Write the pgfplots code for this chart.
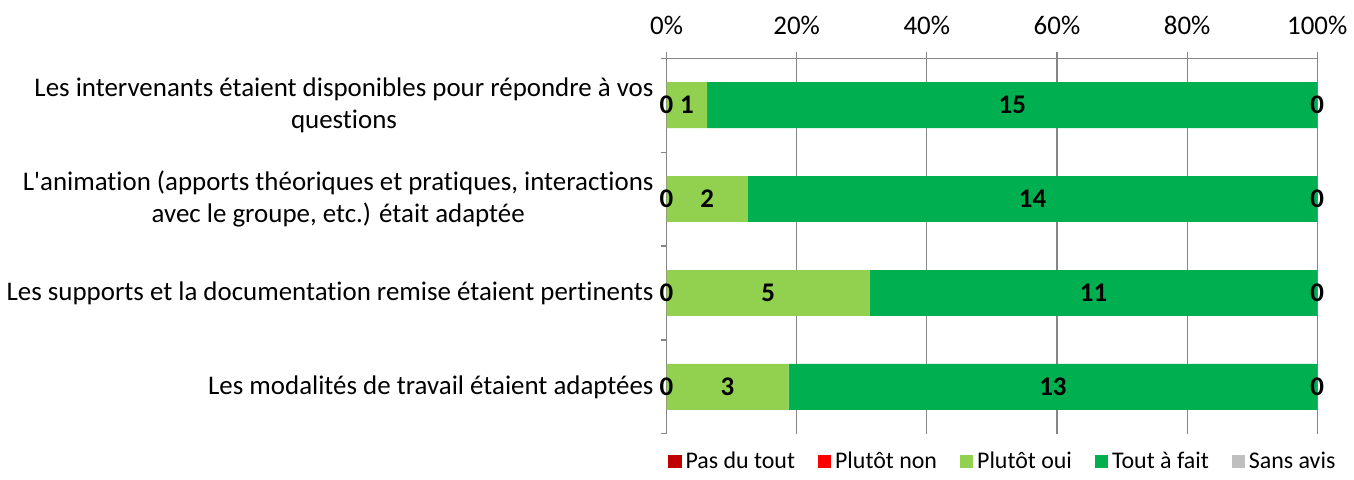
\documentclass[border={0pt 0pt 0pt 5pt}]{standalone}
\usepackage{pgfplots}
\pgfplotsset{compat=1.18}
\usepackage{fontspec}
\setmainfont{Carlito}[Ligatures={NoCommon}]
\definecolor{cPas}{HTML}{C00000}
\definecolor{cNon}{HTML}{FF0000}
\definecolor{cOui}{HTML}{92D050}
\definecolor{cTout}{HTML}{00B050}
\definecolor{cSans}{HTML}{BFBFBF}
\definecolor{cGrid}{HTML}{868686}
% counts per answer for each question (y=3 is the top question)
\pgfplotstableread{
y pas non oui tout sans
3 0 0 1 15 0
2 0 0 2 14 0
1 0 0 5 11 0
0 0 0 3 13 0
}\datatable
% labels of the zero-width segments, at their stacked position
\pgfplotstableread{
x y v
0 3 0
0 2 0
0 1 0
0 0 0
16 3 0
16 2 0
16 1 0
16 0 0
}\zerotable
\pgfplotsset{common/.style={
  scale only axis,
  width=326.5pt, height=188.5pt,
  xmin=0, xmax=16,
  ymin=-0.5, ymax=3.5,
  clip=false,
}}
\begin{document}
\begin{tikzpicture}
\begin{axis}[
  common,
  xbar stacked,
  bar width=23pt,
  axis x line=top, axis y line=left,
  axis line style={-, draw=cGrid},
  every non boxed x axis/.append style={x axis line style={-}},
  every non boxed y axis/.append style={y axis line style={-}},
  xtick={0,3.2,6.4,9.6,12.8,16},
  xticklabels={0\%,20\%,40\%,60\%,80\%,100\%},
  xticklabel style={font=\fontsize{13.5}{16}\selectfont, yshift=5pt},
  xmajorgrids, grid style={cGrid, line width=0.6pt},
  tick style={cGrid, line width=0.6pt},
  tick align=outside,
  major tick length=3pt,
  ytick={-0.5,0.5,1.5,2.5,3.5},
  yticklabels={},
  extra y ticks={3,2,1,0},
  extra y tick labels={{Les intervenants étaient disponibles pour répondre à vos\\questions},{L\textquotesingle animation (apports théoriques et pratiques, interactions\\avec le groupe, etc.) était adaptée},{Les supports et la documentation remise étaient pertinents},{Les modalités de travail étaient adaptées}},
  extra y tick style={major tick length=0pt, yticklabel style={align=center, font=\fontsize{13.5}{16}\selectfont, xshift=-3pt}},
  nodes near coords={\pgfmathprintnumber[assume math mode=true]{\rawx}},
  visualization depends on=rawx \as \rawx,
  every node near coord/.append style={font=\bfseries\fontsize{13.5}{16}\selectfont, text=black, anchor=center},
  legend style={at={(0.5,-0.025)}, anchor=north, xshift=6pt, draw=none, legend columns=-1, font=\fontsize{12}{14}\selectfont,
    /tikz/every even column/.append style={column sep=9.5pt}},
  legend image code/.code={\fill[#1] (0pt,-3.3pt) rectangle (6.6pt,3.3pt);},
]
\addplot[fill=cPas, draw=none] table[x=pas, y=y] {\datatable};
\addplot[fill=cNon, draw=none] table[x=non, y=y] {\datatable};
\addplot[fill=cOui, draw=none] table[x=oui, y=y] {\datatable};
\addplot[fill=cTout, draw=none] table[x=tout, y=y] {\datatable};
\addplot[fill=cSans, draw=none] table[x=sans, y=y] {\datatable};
\legend{Pas du tout, Plutôt non, Plutôt oui, Tout à fait, Sans avis}
\end{axis}
\begin{axis}[
  common,
  hide axis,
  nodes near coords, point meta=explicit symbolic,
  every node near coord/.append style={font=\bfseries\fontsize{13.5}{16}\selectfont, text=black, anchor=center},
]
\addplot[draw=none, mark=none, only marks] table[x=x, y=y, meta=v] {\zerotable};
\end{axis}
\end{tikzpicture}
\end{document}
